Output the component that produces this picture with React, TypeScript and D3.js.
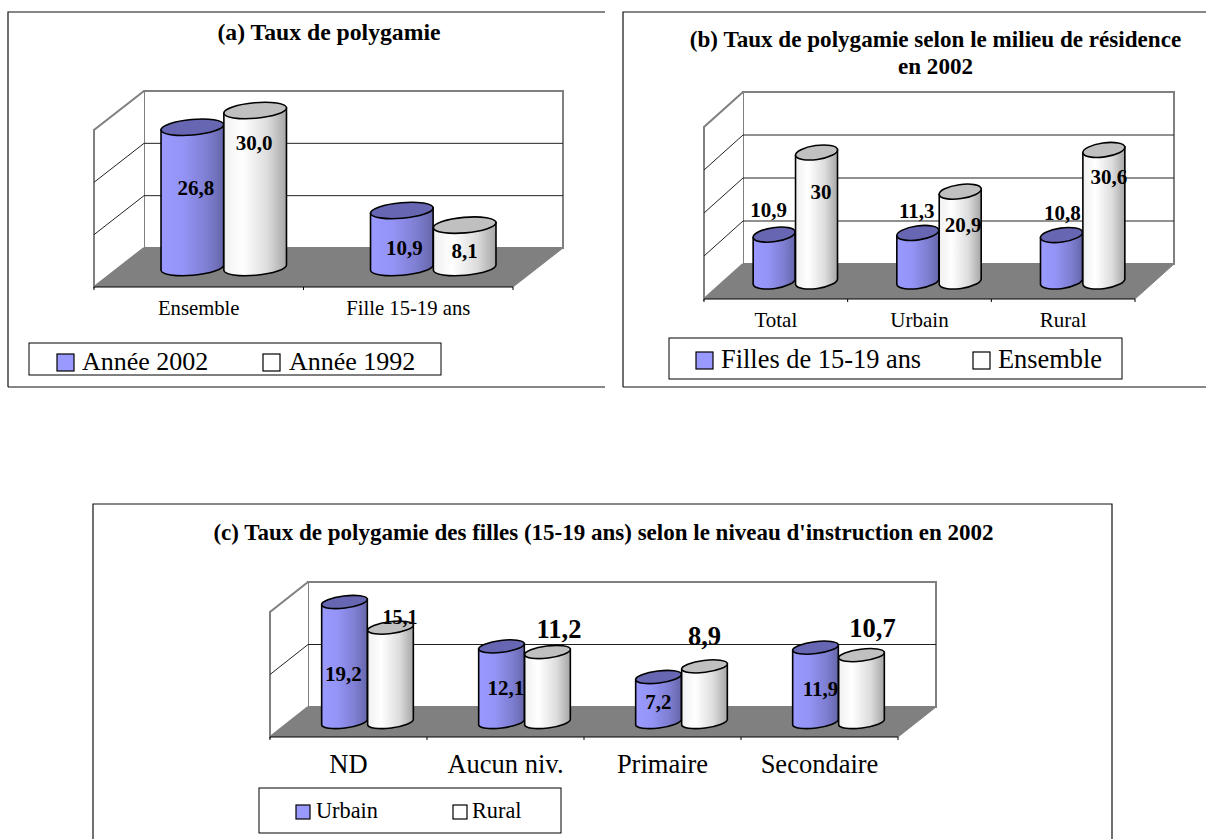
import React from "react";
import * as d3 from "d3";

// panel (a)
const catsA = ["Ensemble", "Fille 15-19 ans"];
const seriesA = ["Année 2002", "Année 1992"];
const a2002 = [26.8, 10.9];
const a1992 = [30.0, 8.1];
const labelsA2002 = ["26,8", "10,9"];
const labelsA1992 = ["30,0", "8,1"];

// panel (b)
const catsB = ["Total", "Urbain", "Rural"];
const seriesB = ["Filles de 15-19 ans", "Ensemble"];
const bFilles = [10.9, 11.3, 10.8];
const bEnsemble = [30, 20.9, 30.6];
const labelsBFilles = ["10,9", "11,3", "10,8"];
const labelsBEnsemble = ["30", "20,9", "30,6"];

// panel (c)
const catsC = ["ND", "Aucun niv.", "Primaire", "Secondaire"];
const seriesC = ["Urbain", "Rural"];
const cUrbain = [19.2, 12.1, 7.2, 11.9];
const cRural = [15.1, 11.2, 8.9, 10.7];
const labelsCUrbain = ["19,2", "12,1", "7,2", "11,9"];
const labelsCRural = ["15,1", "11,2", "8,9", "10,7"];

const FONT = "'Liberation Serif', 'Times New Roman', serif";

interface Panel {
  id: string;
  frame: { x0: number; x1: number; y0: number; y1: number };
  title: string[];
  titleX: number;
  titleY: number[];
  titleSize: number;
  cats: string[];
  seriesNames: string[];
  values: number[][];
  labels: string[][];
  // plot box: front-left x, front-right x, back floor y, wall top y, depth
  left: number;
  right: number;
  floorY: number;
  topY: number;
  dx: number;
  dy: number;
  max: number;
  step: number;
  tilt: number;
  barShare: number;
  catY: number;
  catSize: number;
  labelSize: number[][];
  labelOffset: number[][][];
  legend: {
    x0: number;
    x1: number;
    y0: number;
    y1: number;
    swatchX: number[];
    textX: number[];
    swatchSize: number;
    baseline: number;
    size: number;
  };
}

const panels: Panel[] = [
  {
    id: "a",
    frame: { x0: 8, x1: 605, y0: 12, y1: 387 },
    title: ["(a) Taux de polygamie"],
    titleX: 329,
    titleY: [40],
    titleSize: 23.7,
    cats: catsA,
    seriesNames: seriesA,
    values: [a2002, a1992],
    labels: [labelsA2002, labelsA1992],
    left: 94,
    right: 513,
    floorY: 248,
    topY: 91,
    dx: 50,
    dy: 39,
    max: 30,
    step: 10,
    tilt: -5,
    barShare: 0.3,
    catY: 315,
    catSize: 20.7,
    labelSize: [
      [21, 21],
      [21, 21],
    ],
    labelOffset: [
      [[3.5, 68], [2.5, 45]],
      [[-1, 39.5], [0, 33]],
    ],
    legend: {
      x0: 29,
      x1: 441,
      y0: 343,
      y1: 375,
      swatchX: [57, 263],
      textX: [82, 289],
      swatchSize: 17,
      baseline: 370,
      size: 26,
    },
  },
  {
    id: "b",
    frame: { x0: 623, x1: 1206, y0: 12, y1: 387 },
    title: ["(b) Taux de polygamie selon le milieu de résidence", "en 2002"],
    titleX: 935.5,
    titleY: [47, 74],
    titleSize: 23.1,
    cats: catsB,
    seriesNames: seriesB,
    values: [bFilles, bEnsemble],
    labels: [labelsBFilles, labelsBEnsemble],
    left: 704,
    right: 1135,
    floorY: 264,
    topY: 92,
    dx: 39,
    dy: 35,
    max: 40,
    step: 10,
    tilt: -8,
    barShare: 0.295,
    catY: 327,
    catSize: 21,
    labelSize: [
      [21, 21, 21],
      [21, 21, 21],
    ],
    labelOffset: [
      [[-5.5, -18], [-1, -15], [1, -15]],
      [[4.5, 46.5], [3, 40], [5, 34]],
    ],
    legend: {
      x0: 669,
      x1: 1122,
      y0: 338,
      y1: 379,
      swatchX: [696, 973],
      textX: [721, 998],
      swatchSize: 17,
      baseline: 368,
      size: 26.4,
    },
  },
  {
    id: "c",
    frame: { x0: 93, x1: 1112, y0: 504, y1: 839 },
    title: ["(c) Taux de polygamie des filles (15-19 ans) selon le niveau d'instruction en 2002"],
    titleX: 603.5,
    titleY: [540],
    titleSize: 23,
    cats: catsC,
    seriesNames: seriesC,
    values: [cUrbain, cRural],
    labels: [labelsCUrbain, labelsCRural],
    left: 270,
    right: 898,
    floorY: 707,
    topY: 582,
    dx: 38,
    dy: 30,
    max: 20,
    step: 10,
    tilt: -7,
    barShare: 0.293,
    catY: 773,
    catSize: 26.5,
    labelSize: [
      [21, 21, 21, 21],
      [20, 26.5, 26.5, 26.5],
    ],
    labelOffset: [
      [[-1, 78.7], [4.5, 48.6], [0, 32], [5, 48.4]],
      [[9.5, -3.6], [11.5, -14.3], [0, -21], [11, -18.4]],
    ],
    legend: {
      x0: 259,
      x1: 561,
      y0: 788,
      y1: 833,
      swatchX: [296, 453],
      textX: [316, 472],
      swatchSize: 14,
      baseline: 818,
      size: 22.3,
    },
  },
];

function Cylinder({ cx, rx, ry, tilt, top, bottom, body, cap }: any) {
  const a = (tilt * Math.PI) / 180;
  const ox = rx * Math.cos(a);
  const oy = rx * Math.sin(a);
  const path = d3.path();
  path.moveTo(cx - ox, top - oy);
  path.lineTo(cx - ox, bottom - oy);
  const d =
    path.toString() +
    `A${rx},${ry} ${tilt} 0 0 ${cx + ox},${bottom + oy}L${cx + ox},${top + oy}Z`;
  return (
    <g stroke="#000" strokeWidth={1.6}>
      <path d={d} fill={`url(#${body})`} />
      <ellipse
        cx={cx}
        cy={top}
        rx={rx}
        ry={ry}
        fill={cap}
        transform={`rotate(${tilt} ${cx} ${top})`}
      />
    </g>
  );
}

function Chart({ p }: { p: Panel }) {
  const x = d3.scaleBand<string>().domain(p.cats).range([p.left, p.right]);
  const y = d3.scaleLinear().domain([0, p.max]).range([p.floorY, p.topY]);
  const frontY = p.floorY + p.dy;
  const backX = p.left + p.dx;
  const backRight = p.right + p.dx;
  const ticks = d3.range(p.step, p.max + 1, p.step);
  const barW = x.bandwidth() * p.barShare;
  const rx = barW / 2;
  const ry = p.dy * 0.2;
  const midY = p.dy / 2;
  const midX = p.dx / 2;
  const edges = d3.range(0, p.cats.length + 1).map((i) => p.left + i * x.step());
  const floor = d3.line()([
    [p.left, frontY],
    [backX, p.floorY],
    [backRight, p.floorY],
    [p.right, frontY],
  ]);

  return (
    <g fontFamily={FONT}>
      <path
        d={`M${p.frame.x0},${p.frame.y1}V${p.frame.y0}H${p.frame.x1}${
          p.id === "c" ? `V${p.frame.y1}` : `M${p.frame.x0},${p.frame.y1}H${p.frame.x1}`
        }`}
        fill="none"
        stroke="#111"
        strokeWidth={1.2}
      />
      {p.title.map((t, i) => (
        <text
          key={t}
          x={p.titleX}
          y={p.titleY[i]}
          textAnchor="middle"
          fontWeight="bold"
          fontSize={p.titleSize}
        >
          {t}
        </text>
      ))}

      {/* walls */}
      <rect x={backX} y={p.topY} width={p.right - p.left} height={p.floorY - p.topY} fill="#fff" stroke="#808080" strokeWidth={2} />
      <path
        d={`M${backX},${p.topY}L${p.left},${y(p.max) + p.dy}V${frontY}L${backX},${p.floorY}`}
        fill="#fff"
        stroke="#808080"
        strokeWidth={2}
      />
      {ticks.slice(0, -1).map((t) => (
        <path
          key={t}
          d={`M${p.left},${y(t) + p.dy}L${backX},${y(t)}H${backRight}`}
          fill="none"
          stroke="#222"
          strokeWidth={1}
        />
      ))}
      <path d={floor ?? ""} fill="#808080" stroke="#808080" />

      {/* category axis */}
      <line x1={p.left} x2={p.right} y1={frontY} y2={frontY} stroke="#000" />
      {edges.map((e) => (
        <line key={e} x1={e} x2={e} y1={frontY} y2={frontY + 3} stroke="#000" />
      ))}
      {p.cats.map((c) => (
        <text
          key={c}
          x={(x(c) ?? 0) + x.bandwidth() / 2}
          y={p.catY}
          textAnchor="middle"
          fontSize={p.catSize}
        >
          {c}
        </text>
      ))}

      {/* cylinders */}
      {p.cats.map((c, i) => {
        const center = (x(c) ?? 0) + x.bandwidth() / 2 + midX;
        return (
          <g key={c}>
            {p.values.map((vals, s) => (
              <Cylinder
                key={s}
                cx={center + (s === 0 ? -barW / 2 : barW / 2)}
                rx={rx}
                ry={ry}
                tilt={p.tilt}
                top={y(vals[i]) + midY}
                bottom={p.floorY + midY}
                body={s === 0 ? "bodyBlue" : "bodyWhite"}
                cap={s === 0 ? "#6666b3" : "#c0c0c0"}
              />
            ))}
          </g>
        );
      })}

      {/* value labels */}
      {p.cats.map((c, i) => {
        const center = (x(c) ?? 0) + x.bandwidth() / 2 + midX;
        return p.labels.map((labs, s) => (
          <text
            key={`${c}${s}`}
            x={center + (s === 0 ? -barW / 2 : barW / 2) + p.labelOffset[s][i][0]}
            y={y(p.values[s][i]) + midY + p.labelOffset[s][i][1]}
            textAnchor="middle"
            fontWeight="bold"
            fontSize={p.labelSize[s][i]}
          >
            {labs[i]}
          </text>
        ));
      })}

      {/* legend */}
      <rect
        x={p.legend.x0}
        y={p.legend.y0}
        width={p.legend.x1 - p.legend.x0}
        height={p.legend.y1 - p.legend.y0}
        fill="#fff"
        stroke="#000"
        strokeWidth={1}
      />
      {p.seriesNames.map((name, s) => (
        <g key={name}>
          <rect
            x={p.legend.swatchX[s]}
            y={p.legend.baseline - p.legend.swatchSize + 1}
            width={p.legend.swatchSize}
            height={p.legend.swatchSize}
            fill={s === 0 ? "#9999ff" : "#fff"}
            stroke="#000"
            strokeWidth={1.2}
          />
          <text x={p.legend.textX[s]} y={p.legend.baseline} fontSize={p.legend.size}>
            {name}
          </text>
        </g>
      ))}
    </g>
  );
}

export default function App() {
  return (
    <svg width={1206} height={839} style={{ position: "absolute", left: 0, top: 0, background: "#fff" }}>
      <defs>
        <linearGradient id="bodyBlue" x1="0" x2="1" y1="0" y2="0">
          <stop offset="0" stopColor="#9999ff" />
          <stop offset="0.35" stopColor="#9494f6" />
          <stop offset="0.75" stopColor="#7d7dd0" />
          <stop offset="1" stopColor="#6666aa" />
        </linearGradient>
        <linearGradient id="bodyWhite" x1="0" x2="1" y1="0" y2="0">
          <stop offset="0" stopColor="#f0f0f0" />
          <stop offset="0.3" stopColor="#ffffff" />
          <stop offset="0.7" stopColor="#dcdcdc" />
          <stop offset="1" stopColor="#a6a6a6" />
        </linearGradient>
      </defs>
      {panels.map((p) => (
        <Chart key={p.id} p={p} />
      ))}
    </svg>
  );
}
